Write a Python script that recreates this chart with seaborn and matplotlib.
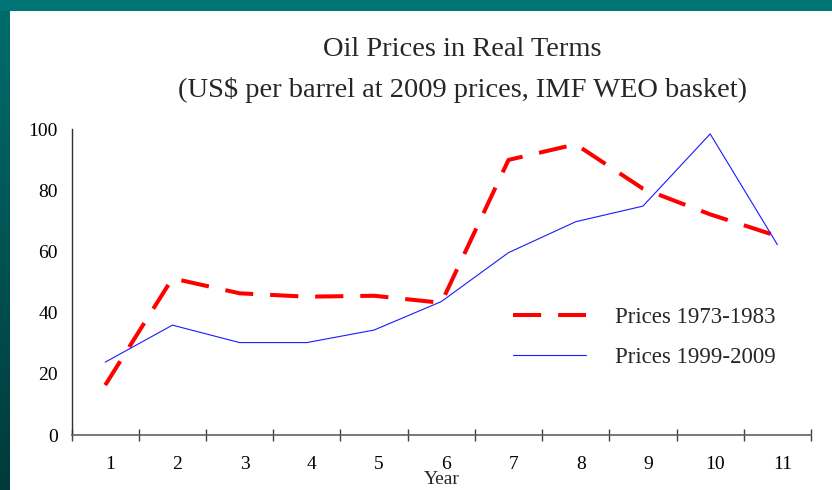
import numpy as np
import pandas as pd
import matplotlib
matplotlib.use("Agg")
import matplotlib.pyplot as plt
import matplotlib.transforms as mtransforms
import seaborn as sns

years = list(range(1, 12))
prices_1973_1983 = [16.3, 51.2, 46.3, 45.2, 45.5, 43.2, 89.9, 95.0, 80.5, 72.1, 65.0]
prices_1999_2009 = [23.8, 35.9, 30.2, 30.2, 34.3, 43.6, 59.6, 69.7, 74.8, 98.4, 62.2]
series_names = ["Prices 1973-1983", "Prices 1999-2009"]
title_line1 = "Oil Prices in Real Terms"
title_line2 = "(US$ per barrel at 2009 prices, IMF WEO basket)"
x_label = "Year"
y_ticks = [0, 20, 40, 60, 80, 100]

df = pd.DataFrame({
    "Year": years * 2,
    "Price": prices_1973_1983 + prices_1999_2009,
    "Series": [series_names[0]] * len(years) + [series_names[1]] * len(years),
})

sns.set_theme(style="white")
plt.rcParams["font.family"] = ["Liberation Serif", "DejaVu Serif"]

W, H = 832, 490
fig = plt.figure(figsize=(W / 100, H / 100), dpi=100)
fig.patch.set_facecolor("white")

# slide frame: top bar and left gradient strip
top = fig.add_axes([0, 1 - 11 / H, 1, 11 / H], zorder=-5)
top.imshow(np.array([[0.0]]), cmap=matplotlib.colors.ListedColormap(["#007575"]), aspect="auto")
top.axis("off")
left = fig.add_axes([0, 0, 10 / W, 1 - 11 / H], zorder=-5)
grad = np.linspace(0, 1, 256).reshape(-1, 1)
cmap = matplotlib.colors.LinearSegmentedColormap.from_list("tg", ["#006c6c", "#003a3a"])
left.imshow(grad, cmap=cmap, aspect="auto")
left.axis("off")

ax = fig.add_axes([71.6 / W, (H - 435) / H, (811 - 71.6) / W, (435 - 129) / H])
ax.set_facecolor("white")

red = df[df["Series"] == series_names[0]]
blue = df[df["Series"] == series_names[1]]
sns.lineplot(data=red, x="Year", y="Price", color="#ff0000", linewidth=2.9,
             ax=ax, label=series_names[0], dashes=False)
ax.lines[-1].set_dashes((7, 4.2))
sns.lineplot(data=blue, x="Year", y="Price", color="#1a1aff", linewidth=0.8,
             ax=ax, label=series_names[1])

ax.set_xlim(0.5, 11.5)
ax.set_ylim(0, 100)
ax.set_yticks(y_ticks)
ax.set_yticklabels([str(v) for v in y_ticks])
ax.set_xticks(years)
ax.set_xticklabels([str(y) for y in years])
ax.set_xticks([y + 0.5 for y in [0] + years], minor=True)
ax.tick_params(axis="x", which="major", length=0, pad=15, labelsize=14, colors="black")
ax.tick_params(axis="x", which="minor", length=9, width=1, direction="inout",
               color="#404040", bottom=True)
ax.tick_params(axis="y", length=0, pad=10, labelsize=14, colors="black")
shift = mtransforms.ScaledTranslation(5 / 100, 0, fig.dpi_scale_trans)
for lbl in ax.get_xticklabels():
    lbl.set_transform(lbl.get_transform() + shift)
for s in ["top", "right"]:
    ax.spines[s].set_visible(False)
ax.spines["bottom"].set_color("#606060")
ax.spines["bottom"].set_linewidth(1.2)
ax.spines["left"].set_color("#303030")
ax.spines["left"].set_linewidth(1.0)
ax.set_xlabel(x_label, fontsize=14, labelpad=-1)
ax.set_ylabel("")
ax.grid(False)

leg = ax.legend(loc="upper left", bbox_to_anchor=(513 / W, 1 - 307 / H),
                bbox_transform=fig.transFigure, frameon=False, fontsize=16.5,
                handlelength=3.2, handletextpad=1.25, labelspacing=0.82,
                borderaxespad=0, borderpad=0)

fig.text(462 / W, 1 - 50 / H, title_line1, ha="center", va="center", fontsize=20.5)
fig.text(462 / W, 1 - 90 / H, title_line2, ha="center", va="center", fontsize=20.5)

fig.savefig("out.png", dpi=100)
